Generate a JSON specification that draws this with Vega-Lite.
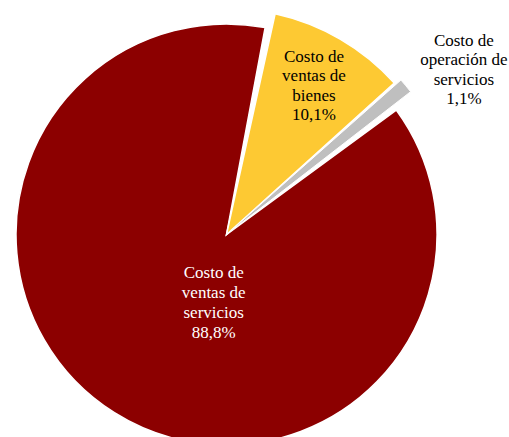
{
  "$schema": "https://vega.github.io/schema/vega-lite/v6.json",
  "autosize": {"type": "none"},
  "padding": {"left": 0, "top": 32, "right": 56, "bottom": 0},
  "width": 453,
  "height": 405,
  "background": "white",
  "config": {"view": {"stroke": null}},
  "data": {
    "values": [
      {"categoria": "Costo de ventas de bienes", "valor": 10.1, "orden": 1, "etiqueta": "Costo de\nventas de\nbienes\n10,1%"},
      {"categoria": "Costo de operación de servicios", "valor": 1.1, "orden": 2, "etiqueta": "Costo de\noperación de\nservicios\n1,1%"},
      {"categoria": "Costo de ventas de servicios", "valor": 88.8, "orden": 3, "etiqueta": "Costo de\nventas de\nservicios\n88,8%"}
    ]
  },
  "transform": [
    {"stack": "valor", "groupby": [], "sort": [{"field": "orden", "order": "ascending"}], "as": ["t0", "t1"]},
    {"calculate": "(datum.t0 + datum.t1) / 2", "as": "tm"}
  ],
  "encoding": {
    "color": {
      "field": "categoria",
      "type": "nominal",
      "scale": {
        "domain": ["Costo de ventas de bienes", "Costo de operación de servicios", "Costo de ventas de servicios"],
        "range": ["#FDC933", "#BFBFBF", "#8C0000"]
      },
      "legend": null
    }
  },
  "layer": [
    {
      "transform": [{"filter": "datum.categoria === 'Costo de ventas de servicios'"}],
      "mark": {"type": "arc", "radius": 210.5, "padAngle": 0.05, "stroke": "white", "strokeWidth": 1.5},
      "encoding": {
        "theta": {"field": "t0", "type": "quantitative", "scale": {"domain": [0, 100], "range": [0.2094, 6.4926]}},
        "theta2": {"field": "t1"}
      }
    },
    {
      "transform": [{"filter": "datum.categoria === 'Costo de ventas de bienes'"}],
      "mark": {"type": "arc", "radius": 226, "padAngle": 0.015, "stroke": "white", "strokeWidth": 1.5},
      "encoding": {
        "theta": {"field": "t0", "type": "quantitative"},
        "theta2": {"field": "t1"}
      }
    },
    {
      "transform": [{"filter": "datum.categoria === 'Costo de operación de servicios'"}],
      "mark": {"type": "arc", "radius": 233, "padAngle": 0.004, "stroke": "white", "strokeWidth": 1},
      "encoding": {
        "theta": {"field": "t0", "type": "quantitative"},
        "theta2": {"field": "t1"}
      }
    },
    {
      "transform": [{"filter": "datum.categoria === 'Costo de ventas de bienes'"}],
      "mark": {"type": "text", "radius": 170, "dx": 2, "dy": -31, "font": "Liberation Serif", "fontSize": 17, "lineHeight": 19.5, "lineBreak": "\n", "align": "center", "baseline": "middle", "color": "black"},
      "encoding": {
        "theta": {"field": "tm", "type": "quantitative"},
        "text": {"field": "etiqueta"},
        "color": {"value": "black"}
      }
    },
    {
      "transform": [{"filter": "datum.categoria === 'Costo de operación de servicios'"}],
      "mark": {"type": "text", "radius": 285, "dx": 18, "dy": -12, "font": "Liberation Serif", "fontSize": 17, "lineHeight": 19.5, "lineBreak": "\n", "align": "center", "baseline": "middle", "color": "black"},
      "encoding": {
        "theta": {"field": "tm", "type": "quantitative"},
        "text": {"field": "etiqueta"},
        "color": {"value": "black"}
      }
    },
    {
      "transform": [{"filter": "datum.categoria === 'Costo de ventas de servicios'"}],
      "mark": {"type": "text", "radius": 71, "dx": 25, "dy": -22, "font": "Liberation Serif", "fontSize": 17, "lineHeight": 20, "lineBreak": "\n", "align": "center", "baseline": "middle", "color": "white"},
      "encoding": {
        "theta": {"field": "tm", "type": "quantitative"},
        "text": {"field": "etiqueta"},
        "color": {"value": "white"}
      }
    }
  ]
}
